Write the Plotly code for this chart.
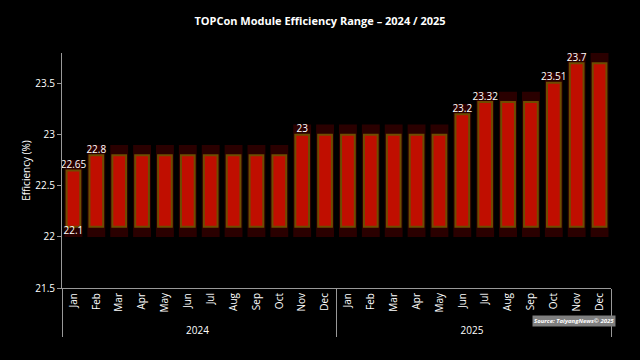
import plotly.graph_objects as go

years = ["2024"] * 12 + ["2025"] * 12
months = ["Jan", "Feb", "Mar", "Apr", "May", "Jun", "Jul", "Aug", "Sep", "Oct", "Nov", "Dec"] * 2
eff_min = [22.1] * 24
eff_max = [22.65, 22.8, 22.8, 22.8, 22.8, 22.8, 22.8, 22.8, 22.8, 22.8, 23.0, 23.0,
           23.0, 23.0, 23.0, 23.0, 23.0, 23.2, 23.32, 23.32, 23.32, 23.51, 23.7, 23.7]
max_labels = ["22.65", "22.8", "", "", "", "", "", "", "", "", "23", "",
              "", "", "", "", "", "23.2", "23.32", "", "", "23.51", "23.7", ""]
min_labels = ["22.1"] + [""] * 23

x = [years, months]
heights = [b - a for a, b in zip(eff_min, eff_max)]

fig = go.Figure()
# soft dark-red halo behind each range bar
fig.add_trace(go.Bar(
    x=x, y=[h + 0.2 for h in heights], base=[m - 0.1 for m in eff_min],
    marker=dict(color="#2a0000", line=dict(width=0)),
    width=0.78, hoverinfo="skip",
))
fig.add_trace(go.Bar(
    x=x, y=heights, base=eff_min,
    marker=dict(color="#c00e00", line=dict(color="#6e4c00", width=2)),
    width=0.6, hoverinfo="skip",
))
fig.add_trace(go.Scatter(
    x=x, y=eff_max, mode="text", text=max_labels, textposition="top center",
    textfont=dict(color="white", size=10, family="Open Sans"), cliponaxis=False,
    hoverinfo="skip",
))
fig.add_trace(go.Scatter(
    x=x, y=eff_min, mode="text", text=min_labels, textposition="bottom center",
    textfont=dict(color="white", size=10, family="Open Sans"), cliponaxis=False,
    hoverinfo="skip",
))

fig.update_layout(
    width=640, height=360,
    paper_bgcolor="black", plot_bgcolor="black",
    margin=dict(l=62, r=29, t=53, b=72),
    showlegend=False, barmode="overlay",
    title=dict(text="<b>TOPCon Module Efficiency Range – 2024 / 2025</b>",
               x=0.5, xanchor="center", y=0.94, yanchor="middle",
               font=dict(color="white", size=11, family="Open Sans")),
    font=dict(family="Open Sans", color="white", size=10),
)
fig.update_yaxes(
    range=[21.5, 23.8], tickvals=[21.5, 22, 22.5, 23, 23.5],
    ticktext=["21.5", "22", "22.5", "23", "23.5"], automargin=False,
    showgrid=False, zeroline=False, showline=True, linecolor="#999999", linewidth=1,
    ticks="outside", ticklen=4, tickcolor="#999999",
    title=dict(text="Efficiency (%)", font=dict(size=10, color="white"), standoff=2),
    tickfont=dict(size=10, color="white"),
)
fig.update_xaxes(
    type="multicategory", range=[-0.5, 23.5],
    showgrid=False, showline=True, linecolor="#999999", linewidth=1,
    tickangle=-90, tickfont=dict(size=10, color="white"), automargin=False,
    showdividers=True, dividercolor="#999999", dividerwidth=1,
)
fig.add_annotation(
    text="<b><i>Source: TaiyangNews© 2025</i></b>", xref="paper", yref="paper",
    x=1.01, y=-0.14, xanchor="right", yanchor="middle", showarrow=False,
    font=dict(size=6, color="white"), bgcolor="#7f7f7f", borderpad=1,
)
fig.write_html("out.html", config={"displayModeBar": False},
               post_script="document.body.style.margin='0';")
